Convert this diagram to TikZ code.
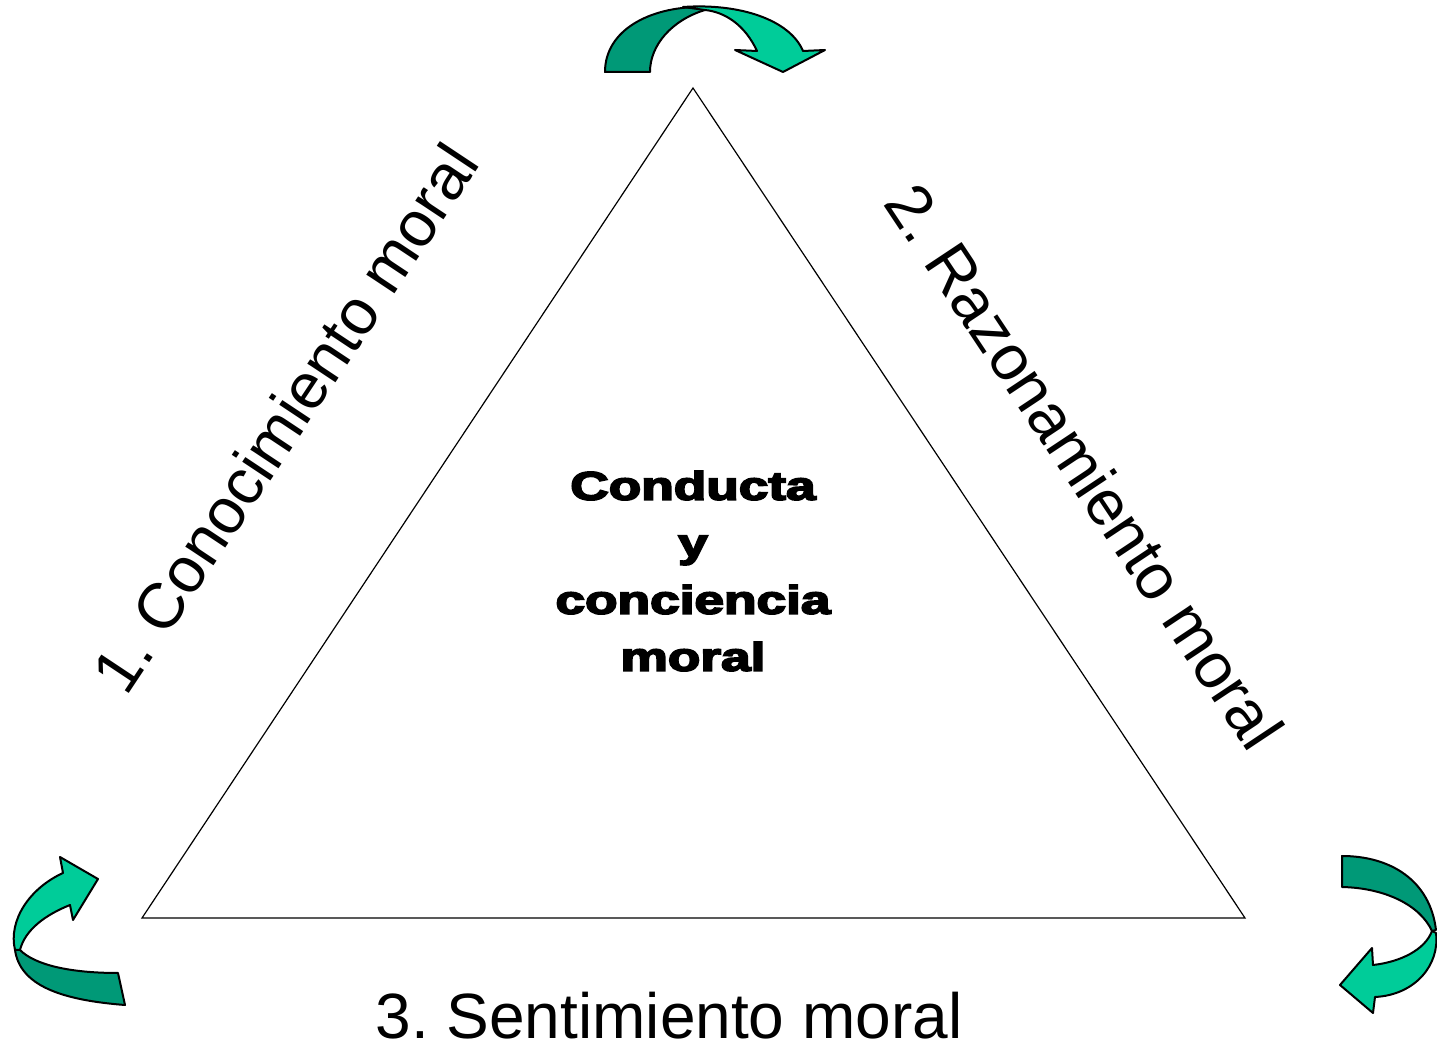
\documentclass[tikz,border=0pt]{standalone}
\usepackage{fontspec}
\setmainfont{Liberation Sans}
\newfontfamily\heavyfont[BoldFeatures={FakeBold=4}]{Liberation Sans}
\definecolor{bandoscuro}{RGB}{0,153,119}
\definecolor{bandaclara}{RGB}{0,204,153}
\frenchspacing

\tikzset{
  etiqueta/.style={font=\fontsize{32}{38}\selectfont, inner sep=0pt},
  oscura/.style={fill=bandoscuro, draw=black, line width=1pt, line join=round},
  clara/.style={fill=bandaclara, draw=black, line width=1pt, line join=round}
}

\begin{document}
\begin{tikzpicture}[x=0.5pt,y=-0.5pt]
  \useasboundingbox (0,0) rectangle (1437,1047);
  % triangulo
  \coordinate (arriba) at (693,88);
  \coordinate (izq) at (142,918);
  \coordinate (der) at (1245,918);
  \draw[line width=0.6pt] (arriba)--(izq)--(der)--cycle;

  % textos
  \node[etiqueta, rotate=56.4] (conocimiento) at (285,418) {1. Conocimiento moral};
  \node[etiqueta, rotate=-56.4] (razonamiento) at (1085,466) {2. Razonamiento moral};
  \node[etiqueta, anchor=base] (sentimiento) at (669,1039) {3. Sentimiento moral};
  \node[align=center, xscale=1.33, inner sep=0pt,
        font=\heavyfont\bfseries\fontsize{20}{28.5}\selectfont] (conducta) at (693,571)
        {Conducta\\y\\conciencia\\moral};

  % flecha de arriba
  \draw[oscura] (605,72) .. controls (605,30) and (650,7) .. (700,7) -- (705,10)
        .. controls (672,20) and (650,45) .. (650,72) -- cycle;
  \draw[clara] (683,7) .. controls (740,3) and (790,20) .. (803,51) -- (825,50)
        -- (783,72) -- (735,50) -- (757,51) .. controls (745,25) and (725,12) .. (705,10) -- cycle;

  % flecha de abajo a la izquierda
  \draw[oscura] (15,950) .. controls (20,985) and (60,1000) .. (125,1005) -- (118,973)
        .. controls (70,973) and (35,965) .. (20,950) -- cycle;
  \draw[clara] (63,873) -- (60,857) -- (98,879) -- (73,920) -- (70,905)
        .. controls (45,915) and (25,930) .. (20,950) -- (15,950)
        .. controls (8,920) and (30,888) .. (63,873) -- cycle;

  % flecha de abajo a la derecha
  \draw[oscura] (1342,856) .. controls (1390,856) and (1430,880) .. (1436,930) -- (1432,931)
        .. controls (1420,905) and (1385,888) .. (1342,887) -- cycle;
  \draw[clara] (1436,933) .. controls (1440,965) and (1415,995) .. (1375,997) -- (1373,1013)
        -- (1340,985) -- (1372,948) -- (1373,965) .. controls (1400,962) and (1425,950) .. (1432,931) -- cycle;
\end{tikzpicture}
\end{document}
